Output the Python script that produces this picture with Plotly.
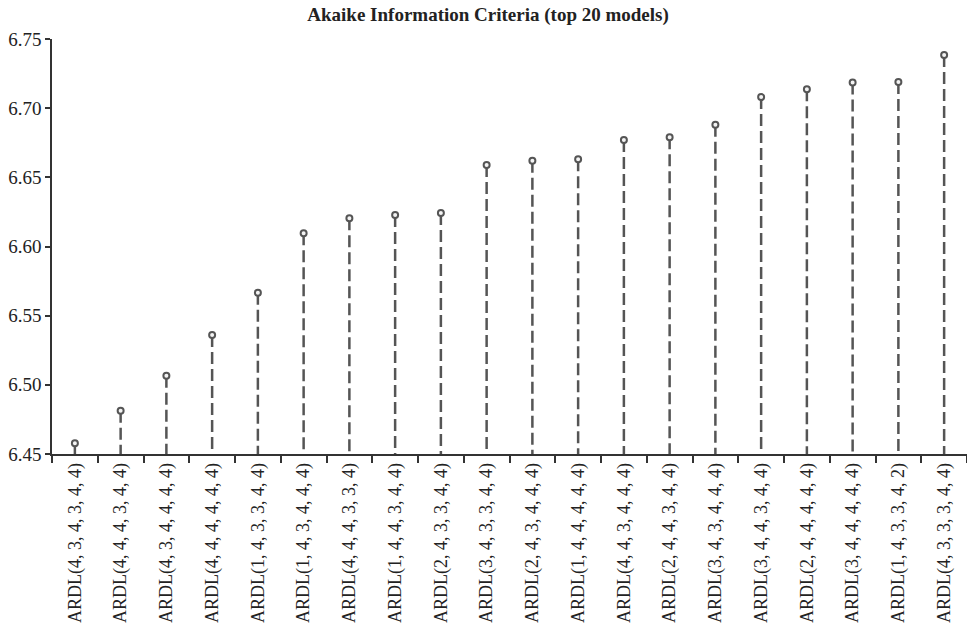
import plotly.graph_objects as go

# Top 20 ARDL specifications ranked by Akaike Information Criterion
models = [
    "ARDL(4, 3, 4, 3, 4, 4)", "ARDL(4, 4, 4, 3, 4, 4)", "ARDL(4, 3, 4, 4, 4, 4)",
    "ARDL(4, 4, 4, 4, 4, 4)", "ARDL(1, 4, 3, 3, 4, 4)", "ARDL(1, 4, 3, 4, 4, 4)",
    "ARDL(4, 4, 4, 3, 3, 4)", "ARDL(1, 4, 4, 3, 4, 4)", "ARDL(2, 4, 3, 3, 4, 4)",
    "ARDL(3, 4, 3, 3, 4, 4)", "ARDL(2, 4, 3, 4, 4, 4)", "ARDL(1, 4, 4, 4, 4, 4)",
    "ARDL(4, 4, 3, 4, 4, 4)", "ARDL(2, 4, 4, 3, 4, 4)", "ARDL(3, 4, 3, 4, 4, 4)",
    "ARDL(3, 4, 4, 3, 4, 4)", "ARDL(2, 4, 4, 4, 4, 4)", "ARDL(3, 4, 4, 4, 4, 4)",
    "ARDL(1, 4, 3, 3, 4, 2)", "ARDL(4, 3, 3, 3, 4, 4)",
]
aic = [
    6.4577, 6.4813, 6.5066, 6.5360, 6.5666, 6.6096, 6.6204, 6.6228, 6.6243, 6.6590,
    6.6620, 6.6630, 6.6770, 6.6790, 6.6880, 6.7080, 6.7137, 6.7185, 6.7190, 6.7385,
]
y_min, y_max = 6.45, 6.75
y_ticks = [6.45, 6.50, 6.55, 6.60, 6.65, 6.70, 6.75]

stem_color = "#555555"
font_family = "Liberation Serif"

# Dashed stems drawn from each value down to the baseline
stem_x, stem_y = [], []
for m, v in zip(models, aic):
    stem_x += [m, m, None]
    stem_y += [v, y_min, None]

fig = go.Figure()
fig.add_trace(go.Scatter(
    x=stem_x, y=stem_y, mode="lines",
    line=dict(color=stem_color, width=2.5, dash="12px,5px"),
    hoverinfo="skip", showlegend=False,
))
fig.add_trace(go.Scatter(
    x=models, y=aic, mode="markers",
    marker=dict(symbol="circle", size=6, color="#f4f4f4",
                line=dict(color=stem_color, width=2)),
    showlegend=False,
))

fig.update_layout(
    width=967, height=633,
    margin=dict(l=52, r=0, t=39, b=179),
    paper_bgcolor="white", plot_bgcolor="white",
    font=dict(family=font_family, color="#222222"),
    title=dict(
        text="<b>Akaike Information Criteria (top 20 models)</b>",
        x=0.5047, xref="container", xanchor="center",
        y=0.978, yref="container", yanchor="middle",
        font=dict(family=font_family, size=19, color="#222222"),
    ),
    xaxis=dict(
        type="category", categoryorder="array", categoryarray=models,
        range=[-0.5, len(models) - 0.5],
        tickangle=-90, tickfont=dict(size=18),
        ticks="outside", ticklen=7, tickwidth=1.5, tickcolor="#333333",
        tickson="boundaries",
        showline=True, linecolor="#333333", linewidth=1.5,
        showgrid=False, zeroline=False,
    ),
    yaxis=dict(
        range=[y_min, y_max], tickvals=y_ticks, tickformat=".2f",
        tickfont=dict(size=19),
        ticks="outside", ticklen=5, tickwidth=1.5, tickcolor="#333333",
        showline=True, linecolor="#333333", linewidth=1.5,
        showgrid=False, zeroline=False,
    ),
)

fig.write_html("out.html")
